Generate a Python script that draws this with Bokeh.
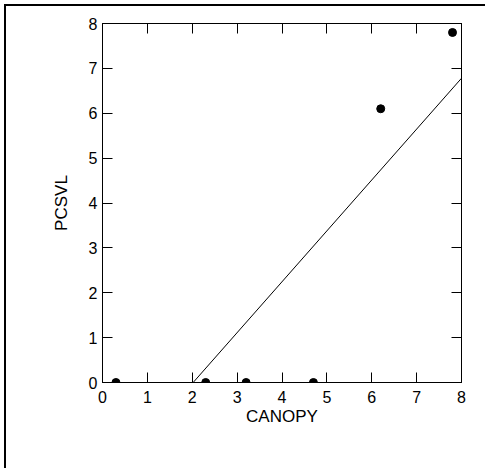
from bokeh.plotting import figure
from bokeh.models import LinearAxis, FixedTicker, Range1d
from bokeh.embed import file_html
from bokeh.resources import INLINE

canopy = [0.3, 2.3, 3.2, 4.7, 6.2, 7.8]
pcsvl = [0.0, 0.0, 0.0, 0.0, 6.1, 7.8]
fit_x = [2.02, 8.0]
fit_y = [0.0, 6.78]
ticks = [0, 1, 2, 3, 4, 5, 6, 7, 8]

FONT = "Liberation Sans"

p = figure(width=481, height=464, output_backend="svg", toolbar_location=None,
           x_range=Range1d(0, 8), y_range=Range1d(0, 8),
           x_axis_location=None, y_axis_location=None,
           min_border_left=96, min_border_right=26, min_border_top=17, min_border_bottom=88)
p.grid.visible = False
p.outline_line_color = "black"
p.outline_line_width = 1
p.background_fill_color = "white"
p.border_fill_color = "white"


def mk_axis(label, show_labels, tick_standoff=4, label_standoff=4):
    ax = LinearAxis(ticker=FixedTicker(ticks=ticks))
    ax.major_tick_in = 10
    ax.major_tick_out = 0
    ax.minor_tick_line_color = None
    ax.axis_line_color = "black"
    ax.major_tick_line_color = "black"
    ax.major_label_text_font = FONT
    ax.major_label_text_font_size = "16px"
    ax.major_label_text_color = "black" if show_labels else None
    ax.major_label_standoff = tick_standoff
    if label:
        ax.axis_label = label
        ax.axis_label_text_font = FONT
        ax.axis_label_text_font_size = "17px"
        ax.axis_label_text_font_style = "normal"
        ax.axis_label_text_color = "black"
        ax.axis_label_standoff = label_standoff
    return ax

p.add_layout(mk_axis("CANOPY", True, tick_standoff=8, label_standoff=1), "below")
p.add_layout(mk_axis("PCSVL", True, tick_standoff=5, label_standoff=15), "left")
p.add_layout(mk_axis(None, False), "above")
p.add_layout(mk_axis(None, False), "right")

p.line(fit_x, fit_y, line_color="black", line_width=1)
p.scatter(canopy, pcsvl, size=8, fill_color="black", line_color="black")

p.styles = {"border-top": "2px solid black", "border-left": "2px solid black",
            "margin-left": "4px", "margin-top": "4px"}

open("out.html", "w").write(file_html(p, INLINE))
